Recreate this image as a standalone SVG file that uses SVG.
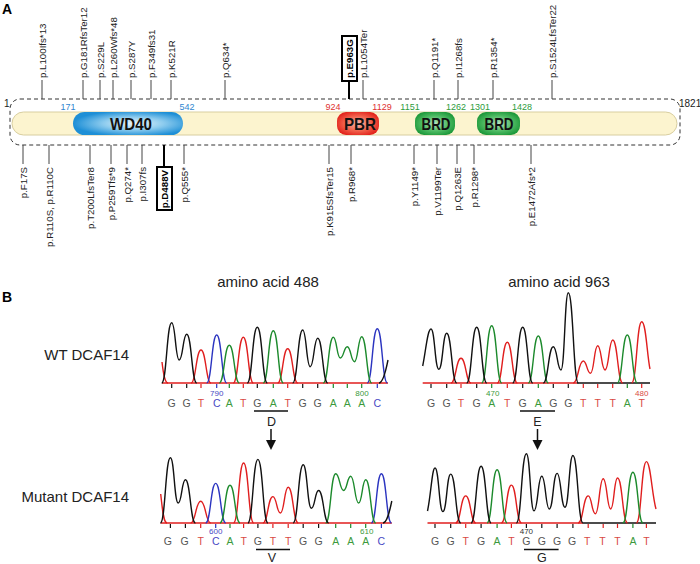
<svg xmlns="http://www.w3.org/2000/svg" width="700" height="564" viewBox="0 0 700 564">
<defs>
<radialGradient id="gBlue" cx="55%" cy="50%" r="55%"><stop offset="0" stop-color="#eef7fc"/><stop offset="0.5" stop-color="#8ccbee"/><stop offset="1" stop-color="#1e8fd6"/></radialGradient>
<radialGradient id="gRed" cx="50%" cy="50%" r="55%"><stop offset="0" stop-color="#fbb6a8"/><stop offset="0.6" stop-color="#f0604a"/><stop offset="1" stop-color="#e3261e"/></radialGradient>
<radialGradient id="gGreen" cx="50%" cy="50%" r="55%"><stop offset="0" stop-color="#b6e4bc"/><stop offset="0.6" stop-color="#4fbb63"/><stop offset="1" stop-color="#1f9a3c"/></radialGradient>
</defs>
<style>
text{font-family:"Liberation Sans",Arial,sans-serif;}
.pl{font-size:9.7px;fill:#222;}
.plb{font-size:9.7px;fill:#000;font-weight:bold;}
.num{font-size:9px;text-anchor:middle;}
.dom{font-size:17px;font-weight:bold;fill:#111;text-anchor:middle;}
.ml{stroke:#444;stroke-width:1;fill:none;}
.mlb{stroke:#000;stroke-width:2;fill:none;}
.box{fill:#fff;stroke:#000;stroke-width:2;}
.tr{fill:none;stroke-width:1.4;stroke-linejoin:round;}
.k{stroke:#111;} .r{stroke:#e01e1e;} .g{stroke:#1c8a2c;} .b{stroke:#2b34c0;}
.base{font-size:10.5px;text-anchor:middle;}
.G{fill:#555;} .T{fill:#d94a44;} .C{fill:#4848c4;} .A{fill:#3c9a3c;}
.tick{stroke-width:1.2;}
.small{font-size:8px;text-anchor:middle;}
.aa{font-size:12.5px;text-anchor:middle;fill:#222;}
.ttl{font-size:15px;fill:#222;}
</style>

<text x="2" y="14" style="font-size:14px;font-weight:bold">A</text>
<text x="2" y="302" style="font-size:14px;font-weight:bold">B</text>

<!-- protein scheme -->
<g id="protein">
<rect x="10" y="99" width="670" height="46" rx="10" fill="none" stroke="#333" stroke-dasharray="4,3"/>
<rect x="12" y="112" width="665" height="23" rx="11.5" fill="#fcf4cf" stroke="#d8ceA0"/>
<text x="4" y="107" style="font-size:10px" fill="#222">1</text>
<text x="679" y="107" style="font-size:10px" fill="#222">1821</text>
</g>
<g id="WD40">
<rect x="73" y="112" width="110" height="23" rx="11.5" fill="url(#gBlue)"/>
<text class="dom" x="131" y="130" textLength="42" lengthAdjust="spacingAndGlyphs">WD40</text>
<text class="num" x="68" y="109.5" fill="#2f86d0">171</text>
<text class="num" x="187" y="109.5" fill="#2f86d0">542</text>
</g>
<g id="PBR">
<rect x="337" y="112" width="42" height="23" rx="9" fill="url(#gRed)"/>
<text class="dom" x="360" y="130" textLength="32" lengthAdjust="spacingAndGlyphs">PBR</text>
<text class="num" x="333" y="109.5" fill="#e03030">924</text>
<text class="num" x="382" y="109.5" fill="#e03030">1129</text>
</g>
<g id="BRD1">
<rect x="415" y="112" width="40" height="23" rx="9" fill="url(#gGreen)"/>
<text class="dom" x="436" y="130" textLength="29" lengthAdjust="spacingAndGlyphs">BRD</text>
<text class="num" x="410" y="109.5" fill="#2c9c3c">1151</text>
<text class="num" x="456" y="109.5" fill="#2c9c3c">1262</text>
</g>
<g id="BRD2">
<rect x="477" y="112" width="43" height="23" rx="9" fill="url(#gGreen)"/>
<text class="dom" x="499" y="130" textLength="29" lengthAdjust="spacingAndGlyphs">BRD</text>
<text class="num" x="480" y="109.5" fill="#2c9c3c">1301</text>
<text class="num" x="522" y="109.5" fill="#2c9c3c">1428</text>
</g>

<g id="connectors">
<path class="ml" d="M42,80V99M83,80V99M100,80V99M113,80V99M131,80V99M151,80V99M171,80V99M225,80V99M363,80V99M434,80V99M458,80V99M493,80V99M552,80V99"/>
<path class="mlb" d="M349,81V99M164,145V167"/>
<path class="ml" d="M23,145V164M49,145V164M90,145V164M111,145V164M127,145V164M142,145V164M184,145V164M329,145V164M351,145V164M414,145V164M437,145V164M457,145V164M474,145V164M531,145V164"/>
</g>

<g id="mutations-top">
<text class="pl" transform="translate(45.5,78) rotate(-90)">p.L100Ifs*13</text>
<text class="pl" transform="translate(86.5,78) rotate(-90)">p.G181RfsTer12</text>
<text class="pl" transform="translate(103.5,78) rotate(-90)">p.S229L</text>
<text class="pl" transform="translate(116.5,78) rotate(-90)">p.L260Wfs*48</text>
<text class="pl" transform="translate(134.5,78) rotate(-90)">p.S287Y</text>
<text class="pl" transform="translate(154.5,78) rotate(-90)">p.F349fs31</text>
<text class="pl" transform="translate(174.5,78) rotate(-90)">p.K521R</text>
<text class="pl" transform="translate(228.5,78) rotate(-90)">p.Q634*</text>
<g id="E963G">
<rect class="box" x="342" y="36" width="15" height="45"/>
<text class="plb" transform="translate(353,78) rotate(-90)">p.E963G</text>
</g>
<text class="pl" transform="translate(366.5,78) rotate(-90)">p.L1054Ter</text>
<text class="pl" transform="translate(437.5,78) rotate(-90)">p.Q1191*</text>
<text class="pl" transform="translate(461.5,78) rotate(-90)">p.I1268fs</text>
<text class="pl" transform="translate(496.5,78) rotate(-90)">p.R1354*</text>
<text class="pl" transform="translate(555.5,78) rotate(-90)">p.S1524LfsTer22</text>
</g>

<g id="mutations-bottom" text-anchor="end">
<text class="pl" transform="translate(26.5,167) rotate(-90)">p.F17S</text>
<text class="pl" transform="translate(52.5,167) rotate(-90)">p.R110S, p.R110C</text>
<text class="pl" transform="translate(93.5,167) rotate(-90)">p.T200LfsTer8</text>
<text class="pl" transform="translate(114.5,167) rotate(-90)">p.P259Tfs*9</text>
<text class="pl" transform="translate(130.5,167) rotate(-90)">p.Q274*</text>
<text class="pl" transform="translate(145.5,167) rotate(-90)">p.I307fs</text>
<g id="D488V">
<rect class="box" x="157" y="167" width="15" height="43"/>
<text class="plb" transform="translate(168,170) rotate(-90)">p.D488V</text>
</g>
<text class="pl" transform="translate(187.5,167) rotate(-90)">p.Q555*</text>
<text class="pl" transform="translate(332.5,167) rotate(-90)">p.K915SfsTer15</text>
<text class="pl" transform="translate(354.5,167) rotate(-90)">p.R968*</text>
<text class="pl" transform="translate(417.5,167) rotate(-90)">p.Y1149*</text>
<text class="pl" transform="translate(440.5,167) rotate(-90)">p.V1199Ter</text>
<text class="pl" transform="translate(460.5,167) rotate(-90)">p.Q1263E</text>
<text class="pl" transform="translate(477.5,167) rotate(-90)">p.R1298*</text>
<text class="pl" transform="translate(534.5,167) rotate(-90)">p.E1472Afs*2</text>
</g>

<!-- Panel B -->
<text class="ttl" x="268" y="287" text-anchor="middle">amino acid 488</text>
<text class="ttl" x="559" y="287" text-anchor="middle">amino acid 963</text>
<text class="ttl" x="129" y="360" text-anchor="end">WT DCAF14</text>
<text class="ttl" x="129" y="502" text-anchor="end">Mutant DCAF14</text>

<!-- WT 488 -->
<g id="wt488">
<path d="M162,383H388" stroke="#e01e1e" stroke-width="1.3"/>
<path class="tr r" d="M162,362 C163.5,375 165,383 168,383"/>
<path class="tr r" d="M191,383 C196,383 196,350 201,350 C206,350 206,383 211,383"/>
<path class="tr r" d="M233.3,383 C238.3,383 238.3,337.3 243.3,337.3 C248.3,337.3 248.3,383 253.3,383"/>
<path class="tr r" d="M277.7,383 C282.7,383 282.7,348.7 287.7,348.7 C292.7,348.7 292.7,383 297.7,383"/>
<path class="tr b" d="M206.7,383 C211.7,383 211.7,335 216.7,335 C221.7,335 221.7,383 226.7,383"/>
<path class="tr b" d="M367.3,383 C372.3,383 372.3,328.7 377.3,328.7 C382.3,328.7 382.3,383 387.3,383"/>
<path class="tr g" d="M219.3,383 C224.3,383 224.3,345.3 229.3,345.3 C234.3,345.3 234.3,383 239.3,383"/>
<path class="tr g" d="M263.3,383 C268.3,383 268.3,330.7 273.3,330.7 C278.3,330.7 278.3,383 283.3,383"/>
<path class="tr g" d="M323.3,383 C328.3,383 328.3,337.3 333.3,337.3 C336.8,337.3 336.8,358 340.3,358 C343.8,358 343.8,346.7 347.3,346.7 C350.9,346.7 350.9,361.7 354.5,361.7 C358.1,361.7 358.1,336.7 361.7,336.7 C366.7,336.7 366.7,383 371.7,383"/>
<path class="tr k" d="M161.7,383 C166.7,383 166.7,322.7 171.7,322.7 C175.45,322.7 175.45,360 179.2,360 C182.95,360 182.95,334.3 186.7,334.3 C191.7,334.3 191.7,383 196.7,383"/>
<path class="tr k" d="M247.3,383 C252.3,383 252.3,327.3 257.3,327.3 C262.3,327.3 262.3,383 267.3,383"/>
<path class="tr k" d="M292.7,383 C297.7,383 297.7,330 302.7,330 C306.45,330 306.45,366.7 310.2,366.7 C313.95,366.7 313.95,338.3 317.7,338.3 C322.7,338.3 322.7,383 327.7,383"/>
<path class="tr k" d="M379,383 C383,383 386,370 388,360"/>
<g class="tick">
<path d="M171.7,384v4M186.7,384v4M257.3,384v4M302.7,384v4M317.7,384v4" stroke="#111"/>
<path d="M201,384v4M243.3,384v4M287.7,384v4" stroke="#e01e1e"/>
<path d="M216.7,384v4M377.3,384v4" stroke="#2b34c0"/>
<path d="M229.3,384v4M273.3,384v4M333.3,384v4M347.3,384v4M361.7,384v4" stroke="#1c8a2c"/>
</g>
<text class="small" x="216.7" y="396" fill="#4848c4">790</text>
<text class="small" x="362" y="396" fill="#3c9a3c">800</text>
<text class="base G" x="171.7" y="407">G</text><text class="base G" x="186.7" y="407">G</text><text class="base T" x="201" y="407">T</text><text class="base C" x="216.7" y="407">C</text><text class="base A" x="229.3" y="407">A</text><text class="base T" x="243.3" y="407">T</text><text class="base G" x="257.3" y="407">G</text><text class="base A" x="273.3" y="407">A</text><text class="base T" x="287.7" y="407">T</text><text class="base G" x="302.7" y="407">G</text><text class="base G" x="317.7" y="407">G</text><text class="base A" x="333.3" y="407">A</text><text class="base A" x="347.3" y="407">A</text><text class="base A" x="361.7" y="407">A</text><text class="base C" x="377.3" y="407">C</text>
<path d="M254,411H288" stroke="#111" stroke-width="1.3"/>
<text class="aa" x="271.5" y="426">D</text>
</g>

<!-- WT 963 -->
<g id="wt963">
<path d="M422.7,383H577" stroke="#e01e1e" stroke-width="1.3"/>
<path d="M577,383H650" stroke="#111" stroke-width="1.3"/>
<path class="tr r" d="M451,383 C456,383 456,358.3 461,358.3 C466,358.3 466,383 471,383"/>
<path class="tr r" d="M497.3,383 C502.3,383 502.3,342.3 507.3,342.3 C512.3,342.3 512.3,383 517.3,383"/>
<path class="tr r" d="M573.3,383 C578.3,383 578.3,361 583.3,361 C586.9,361 586.9,373.3 590.5,373.3 C594.1,373.3 594.1,345.7 597.7,345.7 C601.4,345.7 601.4,370 605,370 C608.9,370 608.9,340 612.7,340 C617.7,340 617.7,383 622.7,383"/>
<path class="tr r" d="M631.7,383 C636.7,383 636.7,321.7 641.7,321.7 C646,321.7 647,355 650,369"/>
<path class="tr g" d="M481.7,383 C486.7,383 486.7,325.7 491.7,325.7 C496.7,325.7 496.7,383 501.7,383"/>
<path class="tr g" d="M528.3,383 C533.3,383 533.3,336 538.3,336 C543.3,336 543.3,383 548.3,383"/>
<path class="tr g" d="M617.3,383 C622.3,383 622.3,335 627.3,335 C632.3,335 632.3,383 637.3,383"/>
<path class="tr k" d="M422.7,366 C426,350 427.5,329 431,329 C434.9,329 434.9,369.3 438.8,369.3 C442.8,369.3 442.8,333.3 446.7,333.3 C451.7,333.3 451.7,383 456.7,383"/>
<path class="tr k" d="M466.7,383 C471.7,383 471.7,327.3 476.7,327.3 C481.7,327.3 481.7,383 486.7,383"/>
<path class="tr k" d="M512.7,383 C517.7,383 517.7,327.3 522.7,327.3 C527.7,327.3 527.7,383 532.7,383"/>
<path class="tr k" d="M543.3,383 C548.3,383 548.3,346.7 553.3,346.7 C557.2,346.7 557.2,370 561,370 C564.7,370 564.7,292.7 568.3,292.7 C573.3,292.7 573.3,383 578.3,383"/>
<g class="tick">
<path d="M431,384v4M446.7,384v4M476.7,384v4M522.7,384v4M553.3,384v4M568.3,384v4" stroke="#111"/>
<path d="M461,384v4M507.3,384v4M583.3,384v4M597.7,384v4M612.7,384v4M641.7,384v4" stroke="#e01e1e"/>
<path d="M491.7,384v4M538.3,384v4M627.3,384v4" stroke="#1c8a2c"/>
</g>
<text class="small" x="492.7" y="396" fill="#3c9a3c">470</text>
<text class="small" x="641.7" y="396" fill="#d94a44">480</text>
<text class="base G" x="431" y="407">G</text><text class="base G" x="446.7" y="407">G</text><text class="base T" x="461" y="407">T</text><text class="base G" x="476.7" y="407">G</text><text class="base A" x="491.7" y="407">A</text><text class="base T" x="507.3" y="407">T</text><text class="base G" x="522.7" y="407">G</text><text class="base A" x="538.3" y="407">A</text><text class="base G" x="553.3" y="407">G</text><text class="base G" x="568.3" y="407">G</text><text class="base T" x="583.3" y="407">T</text><text class="base T" x="597.7" y="407">T</text><text class="base T" x="612.7" y="407">T</text><text class="base A" x="627.3" y="407">A</text><text class="base T" x="641.7" y="407">T</text>
<path d="M520,411H555" stroke="#111" stroke-width="1.3"/>
<text class="aa" x="537.5" y="426">E</text>
</g>

<!-- arrows -->
<g id="arrows" fill="#111">
<path d="M271,429V442" stroke="#111" stroke-width="1.5"/>
<polygon points="266,440 276,440 271,450"/>
<path d="M537.5,429V442" stroke="#111" stroke-width="1.5"/>
<polygon points="532.5,440 542.5,440 537.5,450"/>
</g>

<!-- Mutant 488 -->
<g id="mut488">
<path d="M160.7,523H391.8" stroke="#e01e1e" stroke-width="1.3"/>
<path class="tr r" d="M160.7,494 C162.5,510 163.5,523 167,523"/>
<path class="tr r" d="M190.7,523 C195.7,523 195.7,501.2 200.7,501.2 C205.7,501.2 205.7,523 210.7,523"/>
<path class="tr r" d="M233.6,523 C238.6,523 238.6,463 243.6,463 C248.6,463 248.6,523 253.6,523"/>
<path class="tr r" d="M262.9,523 C267.9,523 267.9,496.6 272.9,496.6 C276.7,496.6 276.7,513 280.4,513 C284.3,513 284.3,487.3 288.2,487.3 C293.2,487.3 293.2,523 298.2,523"/>
<path class="tr b" d="M205.7,523 C210.7,523 210.7,483.4 215.7,483.4 C220.7,483.4 220.7,523 225.7,523"/>
<path class="tr b" d="M371.4,523 C376.4,523 376.4,473.7 381.4,473.7 C386.4,473.7 386.4,523 391.4,523"/>
<path class="tr g" d="M220,523 C225,523 225,485.2 230,485.2 C235,485.2 235,523 240,523"/>
<path class="tr g" d="M325.7,523 C330.7,523 330.7,473.7 335.7,473.7 C339.7,473.7 339.7,490.5 343.6,490.5 C347.2,490.5 347.2,476.2 350.7,476.2 C354.7,476.2 354.7,503 358.6,503 C362.2,503 362.2,479.8 365.7,479.8 C370.7,479.8 370.7,523 375.7,523"/>
<path class="tr k" d="M160.4,523 C165.4,523 165.4,457.7 170.4,457.7 C174.3,457.7 174.3,503 178.2,503 C181.8,503 181.8,479.8 185.4,479.8 C190.4,479.8 190.4,523 195.4,523"/>
<path class="tr k" d="M247.9,523 C252.9,523 252.9,459.4 257.9,459.4 C262.9,459.4 262.9,523 267.9,523"/>
<path class="tr k" d="M293.2,523 C298.2,523 298.2,464.8 303.2,464.8 C307.3,464.8 307.3,508.3 311.4,508.3 C315,508.3 315,490.5 318.6,490.5 C323.6,490.5 323.6,523 328.6,523"/>
<path class="tr k" d="M383,523 C387,523 389.5,512 391.8,501"/>
<g class="tick">
<path d="M170.4,524v4M185.4,524v4M257.9,524v4M303.2,524v4M318.6,524v4" stroke="#111"/>
<path d="M200.7,524v4M243.6,524v4M272.9,524v4M288.2,524v4" stroke="#e01e1e"/>
<path d="M215.7,524v4M381.4,524v4" stroke="#2b34c0"/>
<path d="M230,524v4M335.7,524v4M350.7,524v4M365.7,524v4" stroke="#1c8a2c"/>
</g>
<text class="small" x="215.7" y="534" fill="#4848c4">600</text>
<text class="small" x="366.8" y="534" fill="#3c9a3c">610</text>
<text class="base G" x="167.9" y="545">G</text><text class="base G" x="184.6" y="545">G</text><text class="base T" x="200.7" y="545">T</text><text class="base C" x="215.7" y="545">C</text><text class="base A" x="230" y="545">A</text><text class="base T" x="243.6" y="545">T</text><text class="base G" x="257.9" y="545">G</text><text class="base T" x="272.9" y="545">T</text><text class="base T" x="288.2" y="545">T</text><text class="base G" x="303.2" y="545">G</text><text class="base G" x="318.6" y="545">G</text><text class="base A" x="335.7" y="545">A</text><text class="base A" x="350.7" y="545">A</text><text class="base A" x="365.7" y="545">A</text><text class="base C" x="381.4" y="545">C</text>
<path d="M256,549.5H290" stroke="#111" stroke-width="1.3"/>
<text class="aa" x="272" y="562">V</text>
</g>

<!-- Mutant 963 -->
<g id="mut963">
<path d="M427.5,523H583" stroke="#e01e1e" stroke-width="1.3"/>
<path d="M583,523H656" stroke="#111" stroke-width="1.3"/>
<path class="tr r" d="M455.7,523 C460.7,523 460.7,495.9 465.7,495.9 C470.7,495.9 470.7,523 475.7,523"/>
<path class="tr r" d="M501.4,523 C506.4,523 506.4,485.1 511.4,485.1 C516.4,485.1 516.4,523 521.4,523"/>
<path class="tr r" d="M578.2,523 C583.2,523 583.2,495.9 588.2,495.9 C591.8,495.9 591.8,513.7 595.4,513.7 C599.3,513.7 599.3,478.7 603.2,478.7 C607,478.7 607,509 610.7,509 C614.1,509 614.1,478 617.5,478 C622.5,478 622.5,523 627.5,523"/>
<path class="tr r" d="M636.4,523 C641.4,523 641.4,461.6 646.4,461.6 C650.5,461.6 652,495 656,509"/>
<path class="tr g" d="M487.1,523 C492.1,523 492.1,469.8 497.1,469.8 C502.1,469.8 502.1,523 507.1,523"/>
<path class="tr g" d="M622.9,523 C627.9,523 627.9,472.3 632.9,472.3 C637.9,472.3 637.9,523 642.9,523"/>
<path class="tr k" d="M427.5,511 C431,495 432,468 435,468 C439,468 439,511.6 442.9,511.6 C446.8,511.6 446.8,474.1 450.7,474.1 C455.7,474.1 455.7,523 460.7,523"/>
<path class="tr k" d="M471.1,523 C476.1,523 476.1,466.2 481.1,466.2 C486.1,466.2 486.1,523 491.1,523"/>
<path class="tr k" d="M516.4,523 C521.4,523 521.4,453.7 526.4,453.7 C530.2,453.7 530.2,510.9 534,510.9 C537.9,510.9 537.9,476.2 541.8,476.2 C545.6,476.2 545.6,509 549.3,509 C553.2,509 553.2,473.4 557.1,473.4 C561,473.4 561,507.3 565,507.3 C569,507.3 569,455.5 572.9,455.5 C577.9,455.5 577.9,523 582.9,523"/>
<g class="tick">
<path d="M435,524v4M450.7,524v4M481.1,524v4M526.4,524v4M541.8,524v4M557.1,524v4M572.9,524v4" stroke="#111"/>
<path d="M465.7,524v4M511.4,524v4M588.2,524v4M603.2,524v4M617.5,524v4M646.4,524v4" stroke="#e01e1e"/>
<path d="M497.1,524v4M632.9,524v4" stroke="#1c8a2c"/>
</g>
<text class="small" x="526.4" y="534" fill="#333">470</text>
<text class="base G" x="435" y="545">G</text><text class="base G" x="450.7" y="545">G</text><text class="base T" x="465.7" y="545">T</text><text class="base G" x="481.1" y="545">G</text><text class="base A" x="497.1" y="545">A</text><text class="base T" x="511.4" y="545">T</text><text class="base G" x="526.4" y="545">G</text><text class="base G" x="541.8" y="545">G</text><text class="base G" x="557.1" y="545">G</text><text class="base G" x="572.1" y="545">G</text><text class="base T" x="587.1" y="545">T</text><text class="base T" x="602.5" y="545">T</text><text class="base T" x="617.5" y="545">T</text><text class="base A" x="632.9" y="545">A</text><text class="base T" x="646.4" y="545">T</text>
<path d="M524,549.5H558.6" stroke="#111" stroke-width="1.3"/>
<text class="aa" x="541.8" y="562">G</text>
</g>
</svg>
